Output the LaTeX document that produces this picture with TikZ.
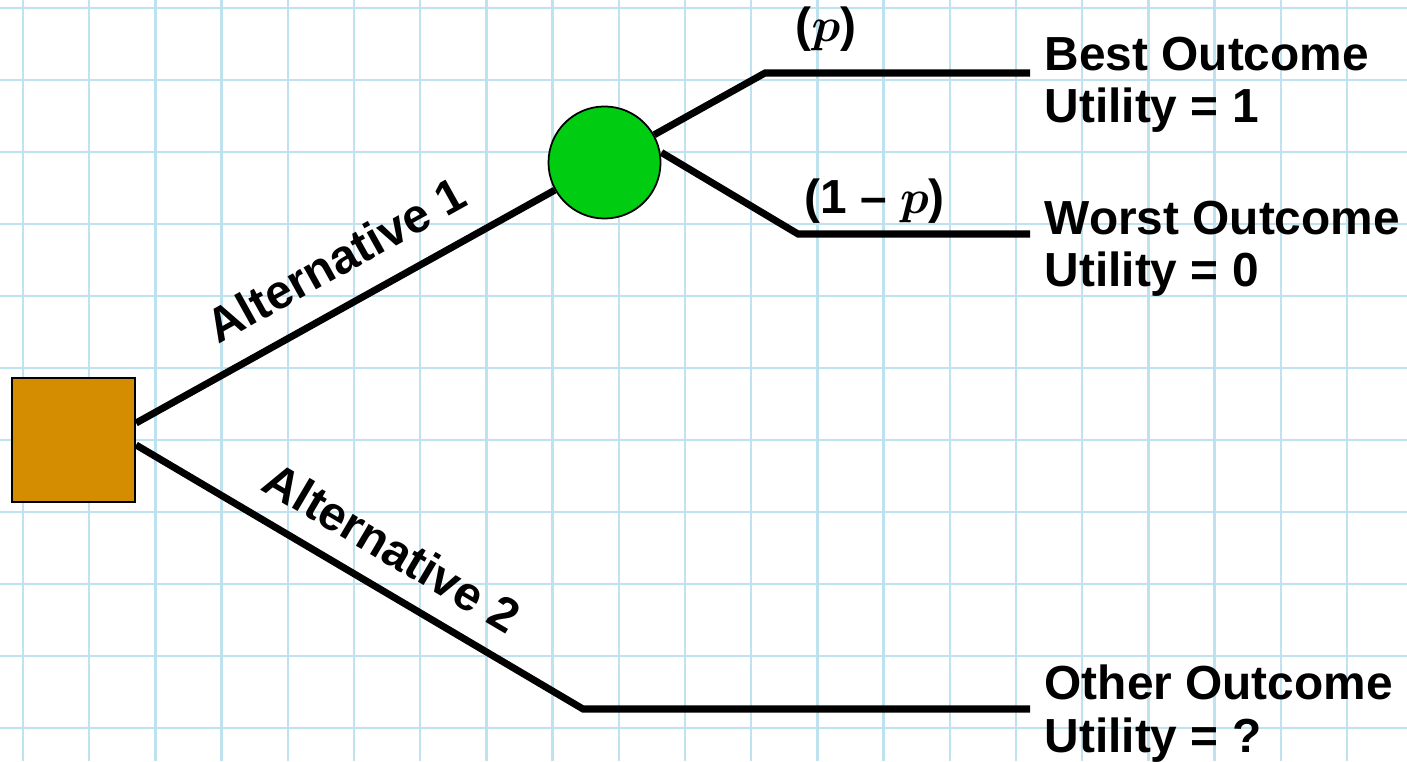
\documentclass[tikz,border=0pt]{standalone}
\usepackage{fix-cm}
\usepackage{fontspec}
\setmainfont{Liberation Sans}
\usepackage{tikz}
\usetikzlibrary{positioning, backgrounds}
\definecolor{gridblue}{RGB}{190,226,238}
\definecolor{decorange}{RGB}{212,140,0}
\definecolor{chancegreen}{RGB}{0,204,17}

\begin{document}
\begin{tikzpicture}[
    x=0.01cm, y=-0.01cm,
    decision/.style={rectangle, draw=black, fill=decorange, line width=0.6pt, minimum width=1.23cm, minimum height=1.24cm, inner sep=0pt},
    chance/.style={circle, draw=black, fill=chancegreen, line width=0.5pt, minimum size=1.12cm, inner sep=0pt},
    branch/.style={line width=2pt, black},
    outcome/.style={align=left, inner sep=0pt, font=\fontsize{13.6}{14.8}\selectfont\bfseries},
    altlabel/.style={sloped, inner sep=0pt, font=\fontsize{13.6}{14.8}\selectfont\bfseries},
    problabel/.style={inner sep=0pt, font=\fontsize{13.6}{14.8}\selectfont\bfseries}
]
    \useasboundingbox (0,0) rectangle (1407,761);
    \begin{scope}[on background layer]
        \foreach \gx in {0,...,20} \draw[gridblue, line width=0.7pt] ({23+66.2*\gx},0) -- ({23+66.2*\gx},761);
        \foreach \gy in {0,...,10} \draw[gridblue, line width=0.7pt] (0,{8+72*\gy}) -- (1407,{8+72*\gy});
    \end{scope}

    \node (dec) [decision] at (73.5,440) {};
    \node (chance) [chance] at (604.5,162.5) {};

    \coordinate (u1) at (765,73);
    \coordinate (b1) at (1030,73);
    \coordinate (l1) at (798,234);
    \coordinate (w1) at (1030,234);
    \coordinate (a2) at (583,709);
    \coordinate (o2) at (1030,709);

    \node (best) [outcome, anchor=base west] at (1044,123) {Best Outcome\\Utility = 1};
    \node (worst) [outcome, anchor=base west] at (1044,287) {Worst Outcome\\Utility = 0};
    \node (other) [outcome, anchor=base west] at (1044,752) {Other Outcome\\Utility = ?};

    \begin{scope}[on background layer]
        \draw[branch] ([yshift=0.17cm]dec.east) -- (chance) node[altlabel, pos=0.53, above=7pt] (alt1) {Alternative 1};
        \draw[branch] ([yshift=-0.05cm]dec.east) -- (a2) node[altlabel, pos=0.525, above=6pt] (alt2) {Alternative 2} -- (o2);
        \draw[branch] (chance) -- (u1) -- (b1) node[problabel, pos=0.23, above=5pt] (pbest) {({\boldmath$p$})};
        \draw[branch] ([yshift=0.1cm]chance.east) -- (l1) -- (w1) node[problabel, pos=0.33, above=2pt] (pworst) {(1 – {\boldmath$p$})};
    \end{scope}
\end{tikzpicture}
\end{document}
